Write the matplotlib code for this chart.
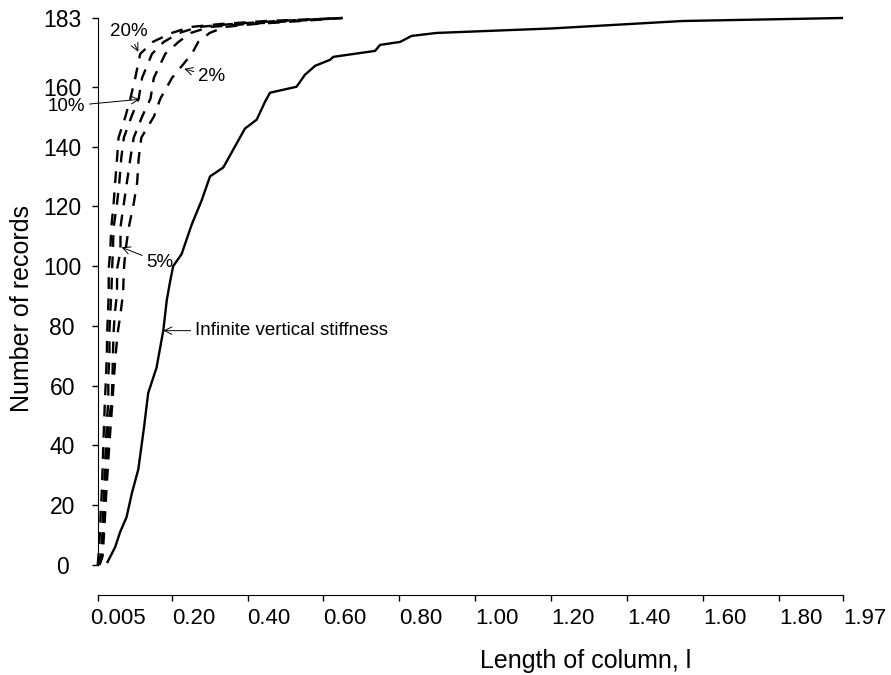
import matplotlib.pyplot as plt
from matplotlib.transforms import ScaledTranslation

plt.rcParams['font.family'] = ['Liberation Sans', 'DejaVu Sans']

# cumulative number of records for the dashed (finite vertical stiffness) runs
records = [0, 3, 11, 18, 25, 33, 41, 48, 55, 63, 70, 78, 84, 91, 99, 105,
           113, 121, 128, 136, 143, 150, 156, 163, 171, 175, 178, 180, 181, 182, 183]
len_20 = [0.005, 0.007, 0.011, 0.013, 0.016, 0.018, 0.020, 0.022, 0.024, 0.027, 0.029,
          0.030, 0.032, 0.034, 0.034, 0.038, 0.041, 0.047, 0.051, 0.056, 0.060, 0.078,
          0.091, 0.104, 0.117, 0.150, 0.200, 0.250, 0.330, 0.450, 0.650]
len_10 = [0.006, 0.013, 0.018, 0.019, 0.022, 0.024, 0.027, 0.029, 0.033, 0.033, 0.036,
          0.036, 0.038, 0.041, 0.043, 0.045, 0.047, 0.056, 0.062, 0.067, 0.074, 0.094,
          0.113, 0.122, 0.148, 0.179, 0.220, 0.270, 0.360, 0.480, 0.650]
len_5 = [0.008, 0.015, 0.019, 0.021, 0.024, 0.028, 0.031, 0.034, 0.042, 0.044, 0.045,
         0.047, 0.050, 0.056, 0.056, 0.065, 0.065, 0.074, 0.082, 0.091, 0.100, 0.122,
         0.144, 0.153, 0.183, 0.218, 0.250, 0.300, 0.400, 0.520, 0.650]
len_2 = [0.010, 0.018, 0.022, 0.025, 0.028, 0.032, 0.036, 0.040, 0.044, 0.048, 0.052,
         0.058, 0.065, 0.072, 0.074, 0.078, 0.087, 0.100, 0.109, 0.113, 0.120, 0.153,
         0.170, 0.201, 0.253, 0.270, 0.300, 0.340, 0.420, 0.540, 0.650]

# infinite vertical stiffness (solid)
inf_len = [0.031, 0.051, 0.064, 0.081, 0.095, 0.112, 0.127, 0.138, 0.160, 0.178, 0.187,
           0.196, 0.204, 0.226, 0.253, 0.279, 0.301, 0.336, 0.371, 0.393, 0.424, 0.446,
           0.459, 0.529, 0.551, 0.578, 0.617, 0.626, 0.736, 0.749, 0.802, 0.832, 0.898,
           1.200, 1.547, 1.966]
inf_rec = [1, 6, 11, 16, 24, 32, 46, 57.5, 66, 78.6, 88.6, 95, 100, 104, 114, 122, 130,
           133, 141, 146, 149, 155, 158, 160, 164, 167, 169, 170, 172, 174, 175, 177, 178,
           179.5, 182, 183]

xticks = [0.005, 0.2, 0.4, 0.6, 0.8, 1.0, 1.2, 1.4, 1.6, 1.8, 1.97]
xticklabels = ['0.005', '0.20', '0.40', '0.60', '0.80', '1.00', '1.20', '1.40', '1.60', '1.80', '1.97']
yticks = [0, 20, 40, 60, 80, 100, 120, 140, 160, 183]

fig = plt.figure(figsize=(8.91, 6.75), dpi=100)
ax = fig.add_axes([0.10965, 0.16296, 0.83693, 0.81037])

dash = (0, (5, 4))
for xs in [len_20, len_10, len_5, len_2]:
    ax.plot(xs, records, color='black', lw=1.7, linestyle=dash, clip_on=False)
ax.plot(inf_len, inf_rec, color='black', lw=1.7, clip_on=False)

ax.set_xlim(0.005, 1.97)
ax.set_ylim(0, 183)

for s in ['top', 'right']:
    ax.spines[s].set_visible(False)
ax.spines['bottom'].set_position(('outward', 21.6))
ax.spines['left'].set_bounds(0, 183)
ax.spines['bottom'].set_bounds(0.005, 1.97)

ax.set_xticks(xticks)
ax.set_xticklabels(xticklabels, fontsize=16, ha='left')
ax.set_yticks(yticks)
ax.set_yticklabels([str(v) for v in yticks], fontsize=16.5, ha='center')
ax.tick_params(axis='both', direction='out', length=4, width=1, color='black')
ax.tick_params(axis='y', pad=21.6)
ax.tick_params(axis='x', pad=5)
lbl0 = ax.get_xticklabels()[0]
lbl0.set_transform(lbl0.get_transform() + ScaledTranslation(-8 / 100, 0, fig.dpi_scale_trans))

fig.text(586 / 891, 2 / 675, 'Length of column, l', fontsize=18, ha='center', va='bottom')
fig.text(22 / 891, 1 - 308 / 675, 'Number of records', fontsize=18, rotation=90,
         ha='center', va='center')

arrow = dict(arrowstyle='->', color='black', lw=0.7, shrinkA=1, shrinkB=0)
ax.annotate('20%', xy=(0.112, 171.7), xytext=(0.086, 178.4), fontsize=13.5,
            ha='center', va='center', arrowprops=arrow, annotation_clip=False)
ax.annotate('10%', xy=(0.116, 155.8), xytext=(-0.077, 153.5), fontsize=13.5,
            ha='center', va='center', arrowprops=arrow, annotation_clip=False)
ax.annotate('2%', xy=(0.233, 166), xytext=(0.305, 163.3), fontsize=13.5,
            ha='center', va='center', arrowprops=arrow)
ax.annotate('5%', xy=(0.068, 106.3), xytext=(0.169, 101.2), fontsize=13.5,
            ha='center', va='center', arrowprops=arrow)
ax.annotate('Infinite vertical stiffness', xy=(0.178, 78.4), xytext=(0.261, 78.4),
            fontsize=13.5, ha='left', va='center', arrowprops=arrow)

fig.savefig('out.png', dpi=100)
